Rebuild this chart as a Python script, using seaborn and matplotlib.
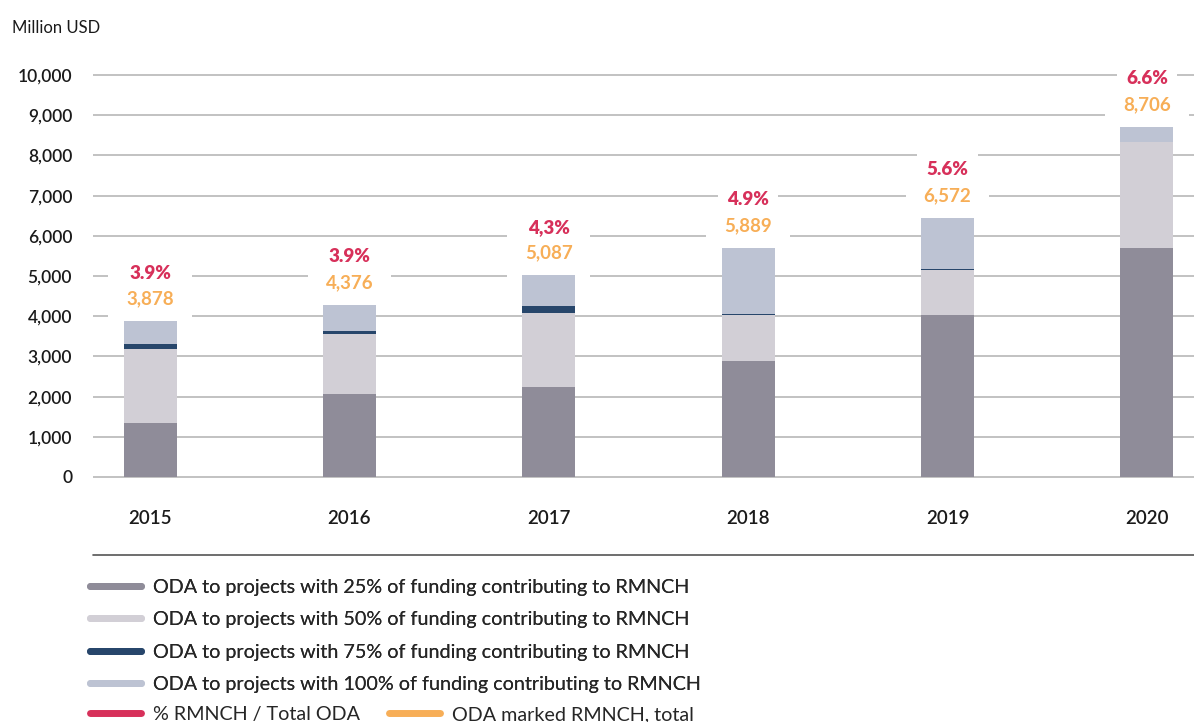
import numpy as np
import pandas as pd
import matplotlib
matplotlib.use('Agg')
import matplotlib.pyplot as plt
from matplotlib.lines import Line2D
import seaborn as sns

# Data (million USD)
years = ['2015', '2016', '2017', '2018', '2019', '2020']
oda_25 = [1350, 2060, 2240, 2890, 4020, 5700]
oda_50 = [1830, 1500, 1840, 1140, 1130, 2630]
oda_75 = [130, 75, 170, 25, 25, 0]
oda_100 = [565, 650, 770, 1650, 1270, 380]
pct_labels = ['3.9%', '3.9%', '4,3%', '4.9%', '5.6%', '6.6%']
marked_total = [3878, 4376, 5087, 5889, 6572, 8706]

series_names = [
    'ODA to projects with 25% of funding contributing to RMNCH',
    'ODA to projects with 50% of funding contributing to RMNCH',
    'ODA to projects with 75% of funding contributing to RMNCH',
    'ODA to projects with 100% of funding contributing to RMNCH',
]
colors = ['#8f8c99', '#d2cfd6', '#27466b', '#bdc3d3']
red = '#d7305a'
orange = '#f7ae57'

sns.set_theme(style='white')
plt.rcParams['font.family'] = ['Lato', 'DejaVu Sans']

W, H = 1194, 722
fig = plt.figure(figsize=(W / 100, H / 100), dpi=100)
ax = fig.add_axes([93 / W, 1 - 481 / H, (W - 93) / W, (481 - 60) / H])

# stacked bars: draw cumulative sums from the top layer down
layers = np.array([oda_25, oda_50, oda_75, oda_100])
cum = layers.cumsum(axis=0)
for k in range(3, -1, -1):
    sns.barplot(x=years, y=cum[k], color=colors[k], width=0.266,
                saturation=1, linewidth=0, errorbar=None, ax=ax, zorder=2)

ax.set_xlim(-0.286, 5.236)
ax.set_ylim(-100, 10373)
ax.set_yticks(np.arange(0, 10001, 1000))
ax.set_yticklabels([f'{v:,}' for v in range(0, 10001, 1000)])
ax.yaxis.grid(True, color='#bdbdbd', linewidth=1.3)
ax.set_axisbelow(True)
sns.despine(ax=ax, left=True, bottom=True)
ax.tick_params(axis='y', length=0, pad=15, labelsize=12.5)
ax.tick_params(axis='x', length=0, pad=21, labelsize=13.5)
for lab in ax.get_xticklabels() + ax.get_yticklabels():
    lab.set_fontweight('semibold')
    lab.set_color('#1a1a1a')
ax.set_xlabel('')
ax.set_ylabel('')

# value labels above each bar
tops = cum[-1]
for i in range(len(years)):
    ax.annotate(f'{marked_total[i]:,}', xy=(i, tops[i]), xytext=(0, 16),
                textcoords='offset points', ha='center', va='center',
                fontsize=13.5, fontweight='bold', color=orange, zorder=1,
                bbox=dict(boxstyle='square,pad=0.95', fc='white', ec='none'))
    ax.annotate(pct_labels[i], xy=(i, tops[i]), xytext=(0, 34.5),
                textcoords='offset points', ha='center', va='center',
                fontsize=13.5, fontweight='heavy', color=red, zorder=1,
                bbox=dict(boxstyle='square,pad=0.5', fc='white', ec='none'))

fig.text(12 / W, 1 - 28 / H, 'Million USD', fontsize=12, va='center',
         ha='left', color='#1a1a1a')

# separator line above the legend
fig.add_artist(Line2D([93 / W, 1], [1 - 555 / H, 1 - 555 / H],
                      color='#555555', linewidth=1.2))

handles = [Line2D([0], [0], color=c, lw=5, solid_capstyle='round') for c in colors]
leg1 = fig.legend(handles, series_names, loc='upper left',
                  bbox_to_anchor=(82 / W, 1 - 571 / H), frameon=False,
                  fontsize=14.2, handlelength=2.6, handletextpad=0.6,
                  labelspacing=0.78, borderaxespad=0)
fig.add_artist(leg1)
handles2 = [Line2D([0], [0], color=red, lw=5, solid_capstyle='round'),
            Line2D([0], [0], color=orange, lw=5, solid_capstyle='round')]
fig.legend(handles2, ['% RMNCH / Total ODA', 'ODA marked RMNCH, total'],
           loc='upper left', bbox_to_anchor=(82 / W, 1 - 698 / H),
           frameon=False, fontsize=14.2, ncol=2, handlelength=2.6,
           handletextpad=0.6, columnspacing=1.45, borderaxespad=0)

fig.savefig('out.png', dpi=100)
